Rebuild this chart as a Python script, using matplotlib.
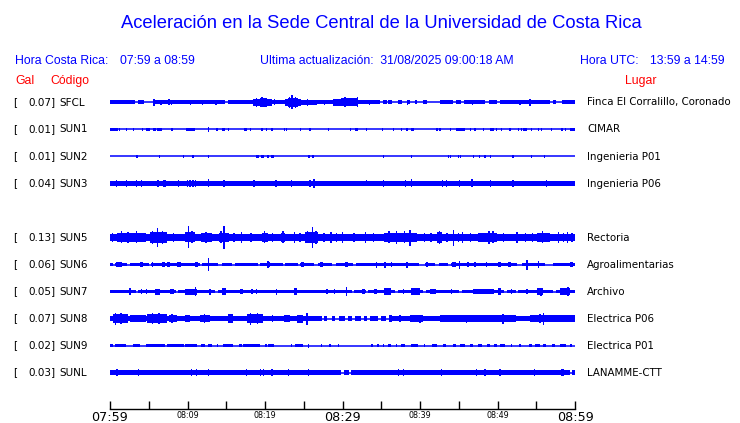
import matplotlib
matplotlib.use("Agg")
import matplotlib.pyplot as plt

# ---------------- data ----------------
codes = ["SFCL", "SUN1", "SUN2", "SUN3", "SUN5", "SUN6", "SUN7", "SUN8", "SUN9", "SUNL"]
peak_gal = [0.07, 0.01, 0.01, 0.04, 0.13, 0.06, 0.05, 0.07, 0.02, 0.03]
places = ["Finca El Corralillo, Coronado", "CIMAR", "Ingenieria P01", "Ingenieria P06",
          "Rectoria", "Agroalimentarias", "Archivo", "Electrica P06", "Electrica P01", "LANAMME-CTT"]
missing_after = 4  # SUN4 row is empty

title = "Aceleración en la Sede Central de la Universidad de Costa Rica"
local_range = "07:59 a 08:59"
utc_range = "13:59 a 14:59"
updated = "31/08/2025 09:00:18 AM"

tick_minutes = list(range(0, 61, 5))
tick_labels = ["07:59", "", "08:09", "", "08:19", "", "08:29", "", "08:39", "", "08:49", "", "08:59"]
big_labels = ["07:59", "08:29", "08:59"]

# relative trace amplitudes (envelope half-heights), time in minutes since 07:59
base_amp = [2.0, 0.0, 0.0, 2.1, 3.6, 1.6, 1.9, 2.9, 0.0, 2.1]

sfcl_gaps = [(3.2, 3.6), (4.4, 5.5), (14.8, 15.2), (34.8, 42.6), (44.2, 44.6), (45.3, 45.7),
             (48.4, 48.9), (49.9, 50.3), (56.8, 58.3)]
sfcl_bursts = [(18.5, 19.3, 3.5), (19.3, 20.2, 4.5), (20.2, 20.9, 3.5), (22.6, 23.0, 3.2),
               (23.0, 24.2, 4.8), (24.2, 24.7, 3.6), (24.7, 26.7, 2.9), (28.8, 29.8, 3.6),
               (29.8, 31.9, 4.0), (35.2, 35.7, 2.0), (35.9, 36.4, 2.0), (37.2, 37.7, 2.0),
               (38.3, 38.7, 2.0), (39.4, 39.6, 2.0), (40.4, 40.9, 2.0), (57.2, 57.5, 2.0)]
sfcl_spikes = [(5.7, 3.8), (6.6, 2.7), (7.6, 3.0), (7.9, 2.7), (10.4, 2.7), (11.9, 2.7), (13.7, 2.5),
               (18.9, 4.4), (19.6, 5.0), (21.2, 3.0), (23.2, 5.5), (23.5, 7.0), (23.9, 5.2),
               (25.5, 3.2), (27.7, 2.7), (30.3, 5.0), (31.9, 5.0), (33.5, 2.7), (38.4, 2.4),
               (46.8, 2.6), (52.9, 2.5), (54.2, 3.2)]

sun1_gaps = []
sun1_bursts = [(0.0, 0.8, 1.6), (4.7, 5.2, 1.6), (6.1, 6.7, 1.6), (9.8, 11.0, 1.6), (24.5, 24.7, 1.6),
               (31.6, 32.0, 1.6), (38.9, 39.2, 1.6), (44.7, 45.8, 1.6), (49.0, 49.5, 1.6),
               (53.3, 53.8, 1.6), (58.7, 58.9, 1.6), (59.4, 60.0, 1.6)]
sun1_spikes = [(0.9, 1.4), (1.2, 1.4), (2.1, 1.3), (3.0, 1.3), (4.2, 1.3), (5.6, 1.4), (5.8, 1.4),
               (8.0, 1.3), (12.7, 2.2), (13.8, 1.3), (14.6, 1.4), (14.8, 1.4), (15.3, 1.3),
               (17.4, 1.3), (17.6, 1.5), (18.1, 1.5), (19.6, 1.3), (20.2, 1.3), (20.9, 1.3),
               (22.5, 1.4), (22.8, 1.4), (25.8, 1.3), (28.2, 1.3), (31.0, 1.4), (33.1, 1.3),
               (35.2, 1.3), (36.6, 1.3), (37.6, 1.3), (38.3, 1.4), (42.2, 1.3), (42.6, 1.3),
               (43.9, 1.4), (46.5, 1.3), (47.1, 1.4), (48.2, 1.3), (49.9, 1.3), (50.5, 1.3),
               (51.6, 1.3), (52.7, 1.4), (53.1, 1.4), (54.4, 1.4), (55.3, 1.4), (55.7, 1.4),
               (57.0, 1.3), (58.3, 1.3)]

sun2_gaps = []
sun2_bursts = []
sun2_spikes = [(3.5, 1.3), (6.4, 1.3), (9.5, 1.3), (10.7, 1.3), (12.7, 1.8), (18.9, 1.5), (19.1, 1.5),
               (19.6, 1.5), (19.8, 1.3), (20.4, 1.3), (20.9, 1.5), (21.1, 1.3), (25.7, 1.3),
               (26.2, 1.3), (35.3, 1.3), (38.9, 1.3), (43.7, 1.3), (43.9, 1.3), (45.0, 1.3),
               (45.2, 1.3), (46.9, 1.3), (47.7, 1.3), (48.4, 1.3), (49.1, 1.5), (52.0, 1.3),
               (54.4, 1.5), (56.1, 1.3)]

sun3_gaps = []
sun3_bursts = [(6.9, 7.2, 3.3), (10.0, 11.0, 2.8)]
sun3_spikes = [(0.8, 3.2), (2.1, 3.2), (3.4, 3.2), (4.1, 3.2), (6.2, 3.2), (8.8, 3.2), (10.0, 3.4),
               (10.3, 3.4), (10.7, 3.4), (11.0, 3.4), (12.7, 4.0), (14.7, 3.2), (18.6, 3.2),
               (21.4, 3.2), (23.4, 3.2), (25.8, 3.3), (26.3, 4.6), (33.1, 3.0), (35.3, 3.4),
               (38.1, 3.1), (38.9, 4.0), (42.9, 3.2), (43.4, 3.2), (45.1, 3.2), (46.7, 4.0),
               (49.1, 3.5), (52.0, 3.2), (56.3, 3.1)]

sun5_gaps = []
sun5_bursts = [(0.9, 4.7, 4.8), (5.2, 7.3, 5.3), (9.7, 11.0, 5.0), (11.8, 13.1, 4.7), (14.0, 15.3, 4.9),
               (19.6, 20.4, 4.7), (22.0, 22.6, 4.7), (25.2, 26.9, 5.1), (35.3, 39.6, 4.7),
               (42.2, 42.8, 5.1), (47.5, 49.9, 4.9), (55.1, 56.8, 4.7)]
sun5_spikes = [(6.1, 9.3), (10.1, 11.0), (14.7, 11.5), (26.1, 10.8), (38.7, 8.0), (44.3, 8.0),
               (1.5, 6.0), (2.3, 5.7), (3.4, 6.0), (5.5, 6.5), (6.8, 6.2), (10.6, 6.0), (12.4, 5.8),
               (14.3, 6.0), (19.9, 6.0), (22.3, 6.0), (25.5, 6.0), (26.6, 6.5), (36.0, 6.0),
               (37.0, 6.5), (38.0, 6.0), (42.5, 6.5), (48.9, 6.5), (49.4, 6.0), (55.8, 6.0),
               (57.9, 5.6), (33.0, 5.2), (30.0, 5.4), (28.5, 5.2), (17.0, 5.2), (23.8, 5.2),
               (45.5, 5.2), (52.5, 5.2), (59.0, 5.2), (0.3, 4.8), (8.2, 4.6), (16.0, 4.6),
               (18.2, 4.7), (21.0, 4.6), (24.5, 4.7), (27.6, 4.7), (29.2, 4.7), (31.5, 4.6),
               (34.0, 4.7), (40.6, 4.6), (41.4, 4.6), (43.5, 4.7), (45.0, 4.6), (46.5, 4.7),
               (50.8, 4.7), (53.6, 4.7), (54.5, 4.6), (58.5, 4.7), (59.6, 4.6)]

sun6_gaps = [(0.4, 0.7), (2.2, 2.6), (5.0, 5.3), (11.6, 11.9), (13.9, 14.4), (15.7, 16.1), (19.1, 19.4),
             (22.3, 22.6), (24.2, 24.5), (26.3, 26.8), (28.7, 29.1), (31.3, 31.8), (39.9, 40.6),
             (41.9, 42.5), (43.6, 44.0), (52.5, 53.1), (56.1, 57.2)]
sun6_bursts = [(0.8, 1.5, 2.5), (3.9, 4.3, 2.5), (6.7, 7.1, 2.5), (7.3, 7.7, 2.8), (8.7, 9.1, 2.5),
               (11.0, 11.4, 2.5), (20.2, 20.6, 2.8), (24.6, 25.0, 2.7), (27.1, 27.5, 2.6),
               (30.3, 30.7, 2.8), (44.1, 44.7, 2.9), (50.1, 50.5, 2.7), (51.4, 51.8, 2.7),
               (59.4, 59.8, 2.9)]
sun6_spikes = [(12.7, 6.8), (20.4, 3.6), (34.4, 3.0), (35.5, 3.0), (36.3, 2.7), (38.3, 3.0), (40.9, 2.8),
               (45.1, 4.0), (46.2, 2.7), (47.1, 2.7), (48.6, 2.7), (53.8, 5.0), (55.3, 3.6), (5.5, 2.7)]

sun7_gaps = [(3.3, 3.6), (8.5, 8.8), (13.5, 13.9), (31.2, 31.5), (33.0, 33.3), (36.8, 37.1), (40.4, 40.8),
             (45.0, 45.4), (50.8, 51.2), (52.4, 52.7), (57.2, 57.5)]
sun7_bursts = [(5.8, 6.5, 3.0), (7.7, 8.2, 2.9), (9.7, 11.2, 3.0), (14.5, 15.0, 3.4), (16.8, 17.2, 2.9),
               (23.7, 24.1, 3.1), (32.5, 32.9, 2.8), (34.0, 34.4, 2.9), (35.3, 36.3, 3.1),
               (38.9, 40.0, 3.1), (41.3, 42.0, 2.8), (46.9, 49.5, 2.9), (50.1, 50.5, 3.6),
               (55.1, 55.9, 3.4), (58.1, 59.4, 3.4)]
sun7_spikes = [(2.6, 3.5), (4.1, 2.9), (4.7, 2.9), (11.0, 4.3), (12.9, 3.0), (18.3, 2.9), (18.9, 2.9),
               (21.5, 3.0), (28.0, 2.9), (29.0, 2.9), (30.5, 4.5), (37.9, 2.9), (44.1, 2.9),
               (51.8, 2.9), (53.8, 2.9), (55.6, 4.0), (59.1, 4.8), (36.0, 3.6), (39.2, 3.8)]

sun8_gaps = [(27.3, 36.0)]
sun8_bursts = [(0.4, 2.3, 4.8), (2.6, 4.7, 3.6), (4.8, 7.4, 4.7), (7.6, 8.6, 3.9), (9.7, 10.3, 3.9),
               (11.6, 12.9, 3.9), (15.2, 15.9, 4.4), (17.7, 19.6, 4.8), (22.4, 23.2, 3.6),
               (24.1, 24.9, 4.0), (27.6, 28.0, 2.1), (28.6, 29.0, 2.1), (29.6, 30.3, 2.1),
               (30.7, 31.2, 2.1), (31.6, 32.4, 2.3), (32.8, 33.2, 2.1), (33.6, 34.6, 2.3),
               (35.0, 35.6, 2.3), (36.0, 36.4, 3.8), (38.7, 40.4, 3.2), (42.6, 48.2, 3.3),
               (48.2, 52.4, 3.6), (54.2, 57.2, 3.9), (57.2, 60.0, 3.2)]
sun8_spikes = [(0.7, 6.0), (1.4, 5.6), (5.5, 5.6), (6.3, 5.2), (15.5, 4.8), (18.1, 6.0), (19.0, 5.4),
               (19.6, 4.2), (25.4, 6.0), (50.7, 5.0), (55.9, 6.0), (55.5, 4.8), (40.0, 4.0),
               (37.4, 3.5), (8.0, 4.5), (12.2, 4.5), (21.0, 3.9), (46.0, 4.0), (44.0, 3.9)]

sun9_gaps = []
sun9_bursts = [(0.0, 0.4, 1.5), (0.6, 2.1, 1.5), (3.0, 3.9, 1.5), (4.7, 7.1, 1.5), (7.3, 9.5, 1.5),
               (9.7, 11.2, 1.5), (11.8, 12.3, 1.5), (12.7, 13.1, 1.5), (13.8, 14.0, 1.5),
               (14.6, 15.9, 1.5), (16.6, 17.0, 1.5), (17.2, 19.4, 1.5), (20.0, 20.2, 1.5),
               (20.4, 21.1, 1.5), (23.9, 24.9, 1.5), (35.9, 36.3, 1.5), (37.6, 38.1, 1.5),
               (38.9, 39.8, 1.5), (41.5, 42.2, 1.5), (43.0, 43.4, 1.5), (44.3, 44.7, 1.5),
               (45.2, 45.8, 1.5), (46.5, 46.9, 1.5), (47.5, 48.0, 1.5), (48.6, 49.0, 1.5),
               (49.5, 49.9, 1.5), (50.3, 51.0, 1.5), (54.0, 54.4, 1.5), (54.8, 55.5, 1.5),
               (55.9, 56.3, 1.5), (57.0, 57.4, 1.5), (58.1, 58.9, 1.5), (59.4, 59.6, 1.5)]
sun9_spikes = [(23.4, 1.5), (25.6, 2.0), (27.3, 1.5), (28.4, 1.5), (29.5, 1.5), (33.8, 1.4), (34.6, 1.4),
               (35.3, 1.4), (37.0, 1.4), (40.6, 1.4), (51.8, 1.4), (52.9, 1.4)]

sunl_gaps = [(29.8, 30.2), (30.8, 31.1), (59.3, 59.6)]
sunl_bursts = []
sunl_spikes = [(0.9, 3.3), (3.7, 3.3), (10.5, 3.3), (11.2, 3.3), (12.7, 3.3), (17.6, 3.3), (19.4, 3.3),
               (19.8, 3.3), (20.9, 3.3), (23.0, 3.3), (25.6, 3.6), (37.2, 3.3), (37.9, 3.6),
               (42.8, 3.3), (47.3, 3.3), (48.4, 3.3), (50.3, 3.3), (54.8, 3.3), (58.3, 3.6),
               (58.5, 3.3)]

gaps = [sfcl_gaps, sun1_gaps, sun2_gaps, sun3_gaps, sun5_gaps, sun6_gaps, sun7_gaps, sun8_gaps,
        sun9_gaps, sunl_gaps]
bursts = [sfcl_bursts, sun1_bursts, sun2_bursts, sun3_bursts, sun5_bursts, sun6_bursts, sun7_bursts,
          sun8_bursts, sun9_bursts, sunl_bursts]
spikes = [sfcl_spikes, sun1_spikes, sun2_spikes, sun3_spikes, sun5_spikes, sun6_spikes, sun7_spikes,
          sun8_spikes, sun9_spikes, sunl_spikes]

# ---------------- layout ----------------
W, H = 740, 423
BLUE = "#0000FF"
RED = "#FF0000"
fig = plt.figure(figsize=(W / 100, H / 100), dpi=100)


def fx(px):
    return px / W


def fy(py):
    return 1 - py / H


X0, X1 = 110, 575
ROW0, ROWSTEP = 102.5, 27
ax = fig.add_axes([fx(X0), fy(ROW0 + 10.5 * ROWSTEP), (X1 - X0) / W, 11 * ROWSTEP / H])
ax.set_xlim(0, 60)
ax.set_ylim(10.5, -0.5)
ax.axis("off")
S = 1.0 / ROWSTEP  # amplitude units -> row units
MINW = 0.2


def block(t0, width, slot, half):
    ax.bar(t0, 2 * half * S, width=width, bottom=slot - half * S, align="edge",
           color=BLUE, linewidth=0)


for i, code in enumerate(codes):
    slot = i if i < missing_after else i + 1
    # thin trace line
    ax.hlines(slot, 0, 60, color=BLUE, lw=1.1)
    # main body excluding gaps
    b = base_amp[i]
    if b > 0:
        t = 0.0
        for g0, g1 in sorted(gaps[i]) + [(60.0, 60.0)]:
            if g0 > t:
                block(t, g0 - t, slot, b)
            t = max(t, g1)
    for t0, t1, h in bursts[i]:
        block(t0, max(t1 - t0, MINW), slot, h)
    for t, h in spikes[i]:
        block(t - 0.09, 0.18, slot, h)

    ypx = ROW0 + slot * ROWSTEP
    fig.text(fx(13), fy(ypx), "[", fontsize=7.5, family="DejaVu Sans", va="center", ha="left")
    fig.text(fx(55.5), fy(ypx), f"{peak_gal[i]:.2f}]", fontsize=7.5, family="DejaVu Sans",
             va="center", ha="right")
    fig.text(fx(59), fy(ypx), code, fontsize=7.5, family="DejaVu Sans", va="center", ha="left")
    fig.text(fx(587), fy(ypx), places[i], fontsize=7.4, family="DejaVu Sans", va="center", ha="left")

# time axis
tax = fig.add_axes([fx(X0), fy(409), (X1 - X0) / W, 0.0001])
tax.set_xlim(0, 60)
tax.set_yticks([])
for s in ["top", "left", "right"]:
    tax.spines[s].set_visible(False)
tax.spines["bottom"].set_linewidth(1.0)
tax.set_xticks(tick_minutes)
tax.set_xticklabels(tick_labels)
tax.tick_params(axis="x", direction="in", length=5.5, width=1.0, pad=1.2)
for lab in tax.get_xticklabels():
    lab.set_family("DejaVu Sans")
    if lab.get_text() in big_labels:
        lab.set_fontsize(9.2)
    else:
        lab.set_fontsize(5.8)

# header texts
fig.text(fx(381.5), fy(23.5), title, fontsize=13.2, family="Liberation Sans", color=BLUE,
         ha="center", va="center")
hdr = dict(fontsize=8.8, family="Liberation Sans", color=BLUE, va="center")
fig.text(fx(15), fy(61), "Hora Costa Rica:", ha="left", **hdr)
fig.text(fx(120), fy(61), local_range, ha="left", **hdr)
fig.text(fx(260), fy(61), "Ultima actualización:  " + updated, ha="left", **hdr)
fig.text(fx(580), fy(61), "Hora UTC:", ha="left", **hdr)
fig.text(fx(725), fy(61), utc_range, ha="right", **hdr)
red = dict(fontsize=8.8, family="Liberation Sans", color=RED, va="center")
fig.text(fx(15), fy(81), "Gal", ha="left", **red)
fig.text(fx(50), fy(81), "Código", ha="left", **red)
fig.text(fx(656), fy(81), "Lugar", ha="right", **red)

fig.savefig("out.png", dpi=100)
